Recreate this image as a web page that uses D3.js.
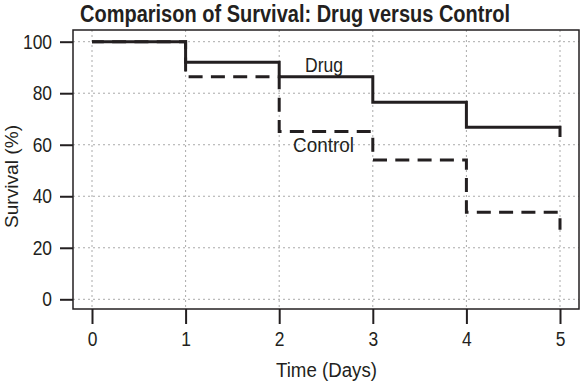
<!DOCTYPE html>
<html>
<head>
<meta charset="utf-8">
<script src="https://cdn.jsdelivr.net/npm/d3@7"></script>
<style>
  html, body { margin: 0; padding: 0; background: #fff; }
  svg text { font-family: "Liberation Sans", Arial, sans-serif; fill: #231f20; }
</style>
</head>
<body>
<div id="chart"></div>
<script>
const days = [0, 1, 2, 3, 4, 5];
const drug = [100, 92, 86.4, 76.5, 66.8, 63];
const control = [100, 86.4, 65.1, 54.1, 33.8, 27];
const xTicks = [0, 1, 2, 3, 4, 5];
const yTicks = [0, 20, 40, 60, 80, 100];
const title = "Comparison of Survival: Drug versus Control";
const xTitle = "Time (Days)";
const yTitle = "Survival (%)";

const W = 580, H = 385;
const box = { left: 73, top: 30, right: 579, bottom: 309 };
const svg = d3.select("#chart").append("svg").attr("width", W).attr("height", H);

const x = d3.scaleLinear().domain([0, 5]).range([92, 560]);
const y = d3.scaleLinear().domain([0, 100]).range([299.3, 41.7]);
const ink = "#231f20";

function condense(sel, factor) {
  sel.each(function () {
    const w = this.getComputedTextLength();
    this.setAttribute("textLength", w * factor);
    this.setAttribute("lengthAdjust", "spacingAndGlyphs");
  });
}
function fitWidth(sel, width) {
  sel.attr("textLength", width).attr("lengthAdjust", "spacingAndGlyphs");
}

// grid
const grid = svg.append("g");
grid.selectAll("line.v").data(xTicks).join("line")
  .attr("x1", d => x(d)).attr("x2", d => x(d))
  .attr("y1", box.top).attr("y2", box.bottom)
  .attr("stroke", "#aaa").attr("stroke-width", 1).attr("stroke-dasharray", "2,3");
grid.selectAll("line.h").data(yTicks).join("line")
  .attr("y1", d => y(d)).attr("y2", d => y(d))
  .attr("x1", box.left).attr("x2", box.right)
  .attr("stroke", "#aaa").attr("stroke-width", 1).attr("stroke-dasharray", "2,3");

// axes
const xAxis = d3.axisBottom(x).tickValues(xTicks).tickSize(15).tickPadding(8).tickFormat(d3.format("d"));
const gx = svg.append("g").attr("transform", `translate(0,${box.bottom})`).call(xAxis);
gx.select(".domain").remove();
gx.selectAll(".tick line").attr("stroke", ink).attr("stroke-width", 2);
gx.selectAll(".tick text").attr("font-size", 20).attr("fill", ink).attr("font-family", "Liberation Sans");
condense(gx.selectAll(".tick text"), 0.87);

const yAxis = d3.axisLeft(y).tickValues(yTicks).tickSize(13).tickPadding(8).tickFormat(d3.format("d"));
const gy = svg.append("g").attr("transform", `translate(${box.left},0)`).call(yAxis);
gy.select(".domain").remove();
gy.selectAll(".tick line").attr("stroke", ink).attr("stroke-width", 2);
gy.selectAll(".tick text").attr("font-size", 20).attr("fill", ink).attr("font-family", "Liberation Sans");
condense(gy.selectAll(".tick text"), 0.87);

// frame
svg.append("rect")
  .attr("x", box.left).attr("y", box.top)
  .attr("width", box.right - box.left).attr("height", box.bottom - box.top)
  .attr("fill", "none").attr("stroke", ink).attr("stroke-width", 1.5);

// lines
const line = d3.line().x(d => x(d[0])).y(d => y(d[1])).curve(d3.curveStepAfter);
const drugData = days.map((d, i) => [d, drug[i]]);
const ctrlData = days.map((d, i) => [d, control[i]]);

const L1 = (x(1) - x(0)) + (y(control[1]) - y(control[0])) + 3;
svg.append("path").datum(ctrlData).attr("d", line)
  .attr("fill", "none").attr("stroke", ink).attr("stroke-width", 3)
  .attr("stroke-dasharray", "14,8.3").attr("stroke-dashoffset", -L1);

svg.append("path").datum(drugData).attr("d", line)
  .attr("fill", "none").attr("stroke", ink).attr("stroke-width", 3);

// labels
const tDrug = svg.append("text").attr("x", 324).attr("y", 72).attr("text-anchor", "middle")
  .attr("font-size", 20).text("Drug");
fitWidth(tDrug, 38);
const tCtrl = svg.append("text").attr("x", 323.5).attr("y", 152).attr("text-anchor", "middle")
  .attr("font-size", 20).text("Control");
fitWidth(tCtrl, 61);

// titles
const tTitle = svg.append("text").attr("x", 295).attr("y", 21.5).attr("text-anchor", "middle")
  .attr("font-size", 23).attr("font-weight", "bold").text(title);
fitWidth(tTitle, 430);
const tX = svg.append("text").attr("x", 326.5).attr("y", 376.5).attr("text-anchor", "middle")
  .attr("font-size", 20).text(xTitle);
fitWidth(tX, 101);
const tY = svg.append("text").attr("transform", `translate(17.5,176.5) rotate(-90)`).attr("text-anchor", "middle")
  .attr("font-size", 19).text(yTitle);
fitWidth(tY, 103);
</script>
</body>
</html>
